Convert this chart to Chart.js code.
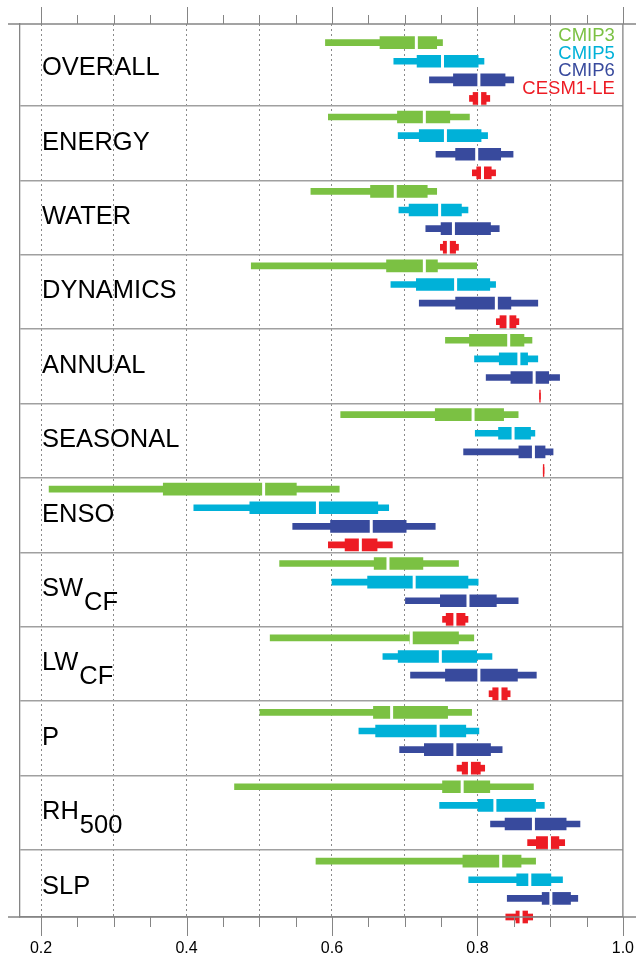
<!DOCTYPE html>
<html>
<head>
<meta charset="utf-8">
<script src="https://cdn.jsdelivr.net/npm/chart.js@4"></script>
<style>
  body { margin: 0; background: #fff; overflow: hidden; }
  #wrap { width: 636px; height: 959px; }
</style>
</head>
<body>
<div id="wrap"><canvas id="grafico"></canvas></div>
<script>
// categories (top to bottom) and subscripts
const categorias = ['OVERALL', 'ENERGY', 'WATER', 'DYNAMICS', 'ANNUAL', 'SEASONAL', 'ENSO', 'SW', 'LW', 'P', 'RH', 'SLP'];
const subindices = ['', '', '', '', '', '', '', 'CF', 'CF', '', '500', ''];

const modelos = ['CMIP3', 'CMIP5', 'CMIP6', 'CESM1-LE'];
const colores = ['#7bc143', '#00b1d8', '#384a9d', '#ed1c24'];

// each entry: [min, q1, median, q3, max]
const cmip3 = [
  [0.591, 0.666, 0.716, 0.744, 0.752],
  [0.595, 0.690, 0.727, 0.762, 0.789],
  [0.571, 0.653, 0.687, 0.731, 0.744],
  [0.489, 0.675, 0.727, 0.745, 0.799],
  [0.756, 0.789, 0.843, 0.864, 0.875],
  [0.612, 0.742, 0.794, 0.836, 0.856],
  [0.211, 0.368, 0.506, 0.551, 0.610],
  [0.528, 0.658, 0.677, 0.725, 0.774],
  [0.515, 0.707, 0.709, 0.774, 0.795],
  [0.501, 0.657, 0.682, 0.759, 0.792],
  [0.466, 0.752, 0.779, 0.817, 0.877],
  [0.578, 0.780, 0.832, 0.860, 0.880]
];
const cmip5 = [
  [0.685, 0.717, 0.752, 0.801, 0.809],
  [0.691, 0.720, 0.756, 0.805, 0.814],
  [0.692, 0.706, 0.748, 0.778, 0.787],
  [0.681, 0.716, 0.770, 0.817, 0.825],
  [0.796, 0.830, 0.857, 0.869, 0.883],
  [0.797, 0.829, 0.849, 0.873, 0.879],
  [0.410, 0.487, 0.580, 0.663, 0.678],
  [0.600, 0.649, 0.713, 0.787, 0.801],
  [0.670, 0.691, 0.749, 0.799, 0.820],
  [0.637, 0.660, 0.746, 0.784, 0.802],
  [0.748, 0.801, 0.824, 0.880, 0.892],
  [0.788, 0.854, 0.872, 0.901, 0.917]
];
const cmip6 = [
  [0.734, 0.767, 0.802, 0.838, 0.850],
  [0.743, 0.770, 0.799, 0.832, 0.849],
  [0.729, 0.750, 0.767, 0.818, 0.830],
  [0.720, 0.770, 0.826, 0.846, 0.883],
  [0.812, 0.846, 0.878, 0.898, 0.913],
  [0.781, 0.857, 0.877, 0.893, 0.904],
  [0.546, 0.598, 0.654, 0.702, 0.742],
  [0.701, 0.749, 0.787, 0.826, 0.856],
  [0.708, 0.756, 0.802, 0.855, 0.881],
  [0.693, 0.727, 0.769, 0.818, 0.834],
  [0.818, 0.838, 0.877, 0.922, 0.941],
  [0.841, 0.889, 0.901, 0.928, 0.938]
];
const cesm = [
  [0.789, 0.794, 0.803, 0.812, 0.817],
  [0.793, 0.799, 0.807, 0.819, 0.825],
  [0.749, 0.753, 0.760, 0.770, 0.774],
  [0.826, 0.831, 0.842, 0.853, 0.857],
  [0.8855, 0.8855, 0.886, 0.8865, 0.8865],
  [0.8905, 0.8905, 0.891, 0.8915, 0.8915],
  [0.595, 0.618, 0.639, 0.662, 0.683],
  [0.752, 0.757, 0.769, 0.783, 0.787],
  [0.816, 0.821, 0.831, 0.841, 0.845],
  [0.772, 0.779, 0.789, 0.804, 0.810],
  [0.869, 0.881, 0.899, 0.912, 0.920],
  [0.839, 0.853, 0.860, 0.869, 0.876]
];

const series = [cmip3, cmip5, cmip6, cesm];
const xTicksMayores = [0.2, 0.4, 0.6, 0.8, 1.0];

const fuente = 'Liberation Sans, Arial, Helvetica, sans-serif';
const gris = '#858585';

// build datasets: whisker, box and median for each model
const datasets = [];
series.forEach((serie, j) => {
  datasets.push({
    type: 'bar',
    data: serie.map((d, i) => ({ x: [d[0], d[4]], y: i * 4 + j })),
    backgroundColor: colores[j],
    barThickness: 6,
    grouped: false,
    clip: false,
    order: 3
  });
  datasets.push({
    type: 'bar',
    data: serie.map((d, i) => ({ x: [d[1], d[3]], y: i * 4 + j })),
    backgroundColor: colores[j],
    barThickness: 12,
    grouped: false,
    clip: false,
    order: 2
  });
  datasets.push({
    type: 'scatter',
    data: serie.map((d, i) => ({ x: d[2], y: i * 4 + j })),
    pointStyle: 'line',
    rotation: 90,
    radius: ctx => {
      const d = serie[ctx.dataIndex];
      return d && d[3] - d[1] > 0.004 ? 7 : 0;
    },
    borderColor: '#fff',
    borderWidth: 3,
    clip: false,
    order: 1
  });
});

// labels, legend, frame and tick marks
const decoracion = {
  id: 'decoracion',
  afterDraw(chart) {
    const { ctx, chartArea, scales } = chart;
    const x = scales.x, y = scales.y;
    ctx.save();

    // frame top/bottom lines extended, right side
    ctx.strokeStyle = gris;
    ctx.lineWidth = 1.3;
    ctx.beginPath();
    ctx.moveTo(8, chartArea.top); ctx.lineTo(636, chartArea.top);
    ctx.moveTo(8, chartArea.bottom); ctx.lineTo(636, chartArea.bottom);
    ctx.moveTo(chartArea.right, chartArea.top); ctx.lineTo(chartArea.right, chartArea.bottom);
    ctx.stroke();

    // tick marks top and bottom
    ctx.lineWidth = 1;
    ctx.beginPath();
    for (let k = 0; k <= 16; k++) {
      const v = 0.2 + k * 0.05;
      const px = Math.round(x.getPixelForValue(v)) + 0.5;
      const mayor = xTicksMayores.some(t => Math.abs(t - v) < 1e-6);
      ctx.moveTo(px, chartArea.bottom);
      ctx.lineTo(px, chartArea.bottom + (mayor ? 19 : 10));
      ctx.moveTo(px, chartArea.top);
      ctx.lineTo(px, chartArea.top - (mayor ? 17 : 9));
    }
    ctx.stroke();

    // category labels
    ctx.fillStyle = '#000';
    ctx.textBaseline = 'middle';
    ctx.textAlign = 'left';
    ctx.font = '25.5px ' + fuente;
    categorias.forEach((c, i) => {
      const py = y.getPixelForValue(i * 4 + 1.37);
      const lx = chartArea.left + 22;
      ctx.fillText(c, lx, py);
      if (subindices[i]) {
        const w = ctx.measureText(c).width;
        ctx.fillText(subindices[i], lx + w + 1, py + 14);
      }
    });

    // legend text
    ctx.font = '18.5px ' + fuente;
    ctx.textAlign = 'right';
    modelos.forEach((m, j) => {
      ctx.fillStyle = colores[j];
      ctx.fillText(m, chartArea.right - 8, chartArea.top + 12 + j * 17.7);
    });
    ctx.restore();
  }
};

const separadores = [];
for (let i = 1; i < categorias.length; i++) separadores.push(i * 4 - 0.6);

new Chart(document.getElementById('grafico'), {
  type: 'bar',
  data: { datasets },
  options: {
    indexAxis: 'y',
    responsive: true,
    maintainAspectRatio: false,
    animation: false,
    layout: { padding: { left: 20, right: 12, top: 24, bottom: 0 } },
    plugins: {
      legend: { display: false },
      tooltip: { enabled: false }
    },
    scales: {
      x: {
        type: 'linear',
        min: 0.171,
        max: 1.0,
        ticks: {
          stepSize: 0.05,
          includeBounds: false,
          padding: 2,
          color: '#000',
          font: { family: fuente, size: 16, lineHeight: 1 },
          maxRotation: 0,
          autoSkip: false,
          callback: v => xTicksMayores.some(t => Math.abs(t - v) < 1e-6) ? v.toFixed(1) : ''
        },
        grid: {
          drawTicks: true,
          tickLength: 22,
          tickColor: 'rgba(0,0,0,0)',
          lineWidth: 1,
          color: ctx => {
            const v = ctx.tick ? ctx.tick.value : 0;
            const r = Math.round(v * 10) / 10;
            return Math.abs(v - r) < 1e-6 && v < 0.95 ? '#8a8a8a' : 'rgba(0,0,0,0)';
          }
        },
        border: { display: true, color: gris, width: 1.3, dash: [2, 3] }
      },
      y: {
        type: 'linear',
        reverse: true,
        offset: false,
        min: -1.0,
        max: 47,
        afterBuildTicks: scale => {
          scale.ticks = separadores.map(v => ({ value: v }));
        },
        ticks: { display: false },
        grid: { offset: false, drawTicks: false, color: '#a0a0a0', lineWidth: 1.5 },
        border: { display: true, color: gris, width: 1.3 }
      }
    }
  },
  plugins: [decoracion]
});
</script>
</body>
</html>
